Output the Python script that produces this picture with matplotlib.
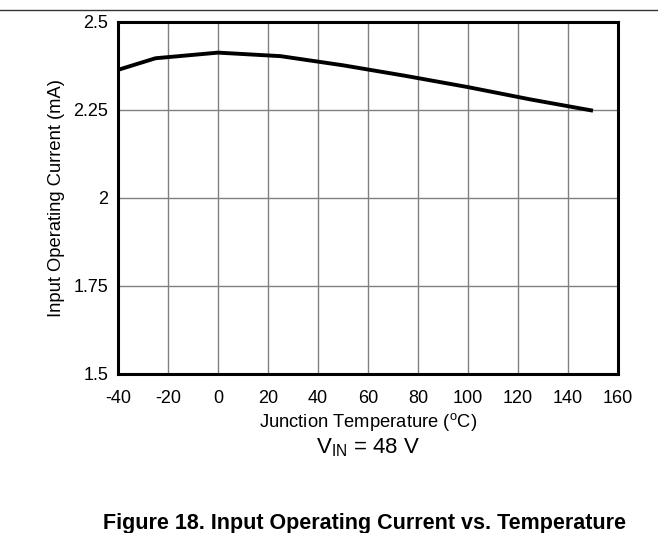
import matplotlib
matplotlib.use("Agg")
import matplotlib.pyplot as plt
from matplotlib.lines import Line2D

plt.rcParams['font.family'] = ['Liberation Sans', 'DejaVu Sans']
plt.rcParams['mathtext.fontset'] = 'custom'
plt.rcParams['mathtext.rm'] = 'Liberation Sans'
plt.rcParams['mathtext.it'] = 'Liberation Sans:italic'
plt.rcParams['mathtext.bf'] = 'Liberation Sans:bold'

# data
temps = [-40, -25, 0, 25, 50, 75, 100, 125, 150]
current = [2.364, 2.397, 2.413, 2.403, 2.377, 2.347, 2.315, 2.280, 2.248]

xticks = [-40, -20, 0, 20, 40, 60, 80, 100, 120, 140, 160]
yticks = [1.5, 1.75, 2.0, 2.25, 2.5]
ytick_labels = ['1.5', '1.75', '2', '2.25', '2.5']

fig = plt.figure(figsize=(6.58, 5.33), dpi=100, facecolor='white')
ax = fig.add_axes([118/658, 1 - 374/533, 500/658, 352/533])

ax.plot(temps, current, color='black', lw=2.8, solid_capstyle='butt', zorder=3)

ax.set_xlim(-40, 160)
ax.set_ylim(1.5, 2.5)
ax.set_xticks(xticks)
ax.set_xticklabels([str(t) for t in xticks])
ax.set_yticks(yticks)
ax.set_yticklabels(ytick_labels)
ax.tick_params(length=0, labelsize=13)
ax.tick_params(axis='x', pad=11.5)
ax.tick_params(axis='y', pad=7)
ax.grid(True, color='#808080', lw=1.0)
for s in ax.spines.values():
    s.set_linewidth(2.2)
    s.set_color('black')

ax.set_xlabel(r'Junction Temperature ($^{\mathrm{o}}$C)', fontsize=13.2, labelpad=3)
ax.set_ylabel('Input Operating Current (mA)', fontsize=13.2, labelpad=6)

# condition text and figure caption
fig.text(0.5 * (118 + 618) / 658, 1 - 448/533, r'V$_{\mathrm{IN}}$ = 48 V',
         ha='center', va='center', fontsize=16)
fig.text(365/658, 1 - 524/533, 'Figure 18. Input Operating Current vs. Temperature',
         ha='center', va='center', fontsize=15.5, fontweight='bold')

# rule line at the top of the page crop
fig.add_artist(Line2D([0, 1], [1 - 9.5/533, 1 - 9.5/533], color='#333333', lw=1.0,
                      transform=fig.transFigure))

fig.savefig('out.png', dpi=100)
